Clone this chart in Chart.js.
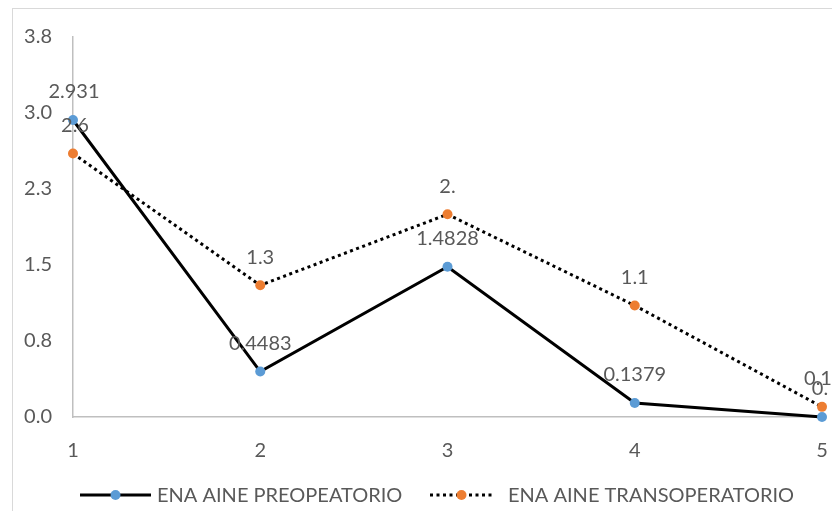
<!DOCTYPE html>
<html>
<head>
<meta charset="utf-8">
<script src="https://cdn.jsdelivr.net/npm/chart.js@4/dist/chart.umd.min.js"></script>
<style>
  html, body { margin: 0; padding: 0; background: #fff; overflow: hidden; }
  #frame { position: absolute; left: 12px; top: 8px; width: 900px; height: 600px; border: 1px solid #d9d9d9; }
  #wrap { position: absolute; left: 0; top: 0; width: 832px; height: 511px; }
</style>
</head>
<body>
<div id="frame"></div>
<div id="wrap"><canvas id="chart" width="832" height="511"></canvas></div>
<script>
const categories = ["1", "2", "3", "4", "5"];
const preValues = [2.931, 0.4483, 1.4828, 0.1379, 0];
const transValues = [2.6, 1.3, 2.0, 1.1, 0.1];
const preLabels = ["2.931", "0.4483", "1.4828", "0.1379", "0."];
const transLabels = ["2.6", "1.3", "2.", "1.1", "0.1"];
const yTicks = ["0.0", "0.8", "1.5", "2.3", "3.0", "3.8"];

const textColor = "#595959";
const fontFamily = "Lato, 'Open Sans', sans-serif";
const fontSize = 20;

// value labels above each point
const labelPlugin = {
  id: "pointLabels",
  afterDatasetsDraw(chart) {
    const ctx = chart.ctx;
    ctx.save();
    ctx.font = fontSize + "px " + fontFamily;
    ctx.fillStyle = textColor;
    ctx.textAlign = "center";
    ctx.textBaseline = "middle";
    chart.data.datasets.forEach((ds, i) => {
      const meta = chart.getDatasetMeta(i);
      meta.data.forEach((pt, j) => {
        let dx = 0;
        if (i === 0 && j === 0) dx = 1;
        if (i === 1 && j === 0) dx = 2;
        if (i === 1 && j === 4) dx = -4;
        if (i === 0 && j === 4) dx = -2;
        ctx.fillText(ds.valueLabels[j], pt.x + dx, pt.y - 28);
      });
    });
    ctx.restore();
  },
};

// legend drawn like the office one: line sample with marker in the middle
const legendPlugin = {
  id: "lineLegend",
  afterDraw(chart) {
    const ctx = chart.ctx;
    const y = 495;
    const items = [
      { ds: chart.data.datasets[0], x0: 80, x1: 151, tx: 157 },
      { ds: chart.data.datasets[1], x0: 430, x1: 493, tx: 508 },
    ];
    ctx.save();
    items.forEach((it) => {
      ctx.beginPath();
      ctx.strokeStyle = it.ds.borderColor;
      ctx.lineWidth = it.ds.borderWidth;
      ctx.setLineDash(it.ds.borderDash || []);
      ctx.moveTo(it.x0, y);
      ctx.lineTo(it.x1, y);
      ctx.stroke();
      ctx.setLineDash([]);
      ctx.beginPath();
      ctx.fillStyle = it.ds.pointBackgroundColor;
      ctx.arc((it.x0 + it.x1) / 2, y, 5, 0, Math.PI * 2);
      ctx.fill();
      ctx.font = fontSize + "px " + fontFamily;
      ctx.fillStyle = textColor;
      ctx.textAlign = "left";
      ctx.textBaseline = "middle";
      ctx.fillText(it.ds.label, it.tx, y + 1);
    });
    ctx.restore();
  },
};

new Chart(document.getElementById("chart"), {
  type: "line",
  data: {
    labels: categories,
    datasets: [
      {
        label: "ENA AINE PREOPEATORIO",
        data: preValues,
        valueLabels: preLabels,
        borderColor: "#000000",
        borderWidth: 3,
        pointBackgroundColor: "#5b9bd5",
        pointBorderWidth: 0,
        pointRadius: 5,
        tension: 0,
        clip: false,
      },
      {
        label: "ENA AINE TRANSOPERATORIO",
        data: transValues,
        valueLabels: transLabels,
        borderColor: "#000000",
        borderWidth: 3,
        borderDash: [3, 3.5],
        pointBackgroundColor: "#ed7d31",
        pointBorderWidth: 0,
        pointRadius: 5,
        tension: 0,
        clip: false,
      },
    ],
  },
  options: {
    responsive: false,
    animation: false,
    layout: { padding: { left: 0, right: 10, top: 37, bottom: 0 } },
    plugins: {
      legend: { display: false },
      tooltip: { enabled: false },
    },
    scales: {
      x: {
        grid: { display: false, drawTicks: false },
        border: { display: true, color: "#bfbfbf", width: 1.5 },
        ticks: {
          color: textColor,
          font: { family: fontFamily, size: fontSize },
          padding: 22,
          maxRotation: 0,
        },
        afterFit: (scale) => {
          scale.height = 94;
          scale.paddingLeft = 0;
          scale.paddingRight = 0;
        },
      },
      y: {
        min: 0,
        max: 3.75,
        grid: { display: false, drawTicks: false },
        border: { display: true, color: "#bfbfbf", width: 1.5 },
        ticks: {
          stepSize: 0.75,
          color: textColor,
          font: { family: fontFamily, size: fontSize },
          padding: 21,
          callback: (value, index) => yTicks[index],
        },
        afterFit: (scale) => {
          scale.width = 73;
          scale.paddingTop = 0;
          scale.paddingBottom = 0;
        },
      },
    },
  },
  plugins: [labelPlugin, legendPlugin],
});
</script>
</body>
</html>
